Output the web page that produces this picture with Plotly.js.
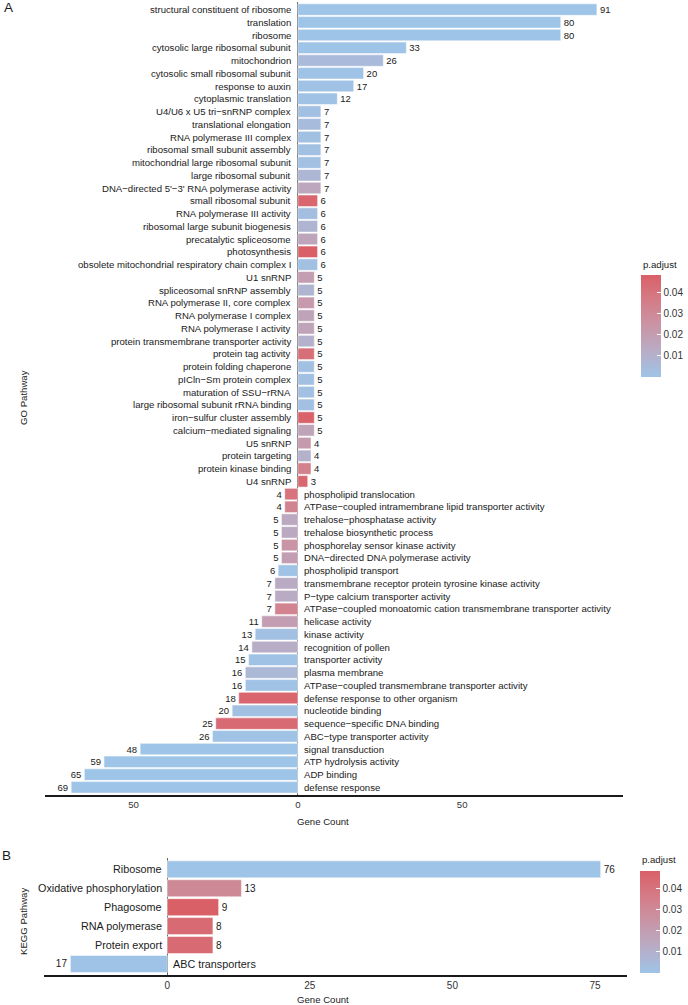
<!DOCTYPE html>
<html><head><meta charset="utf-8">
<script src="https://cdn.plot.ly/plotly-3.0.1.min.js"></script>
<style>html,body{margin:0;padding:0;background:#fff}#chart{width:688px;height:1005px}</style>
</head><body><div id="chart"></div>
<script>
// ---------- GO data ----------
const goTerms = [
 "structural constituent of ribosome","translation","ribosome","cytosolic large ribosomal subunit","mitochondrion",
 "cytosolic small ribosomal subunit","response to auxin","cytoplasmic translation","U4/U6 x U5 tri\u2212snRNP complex",
 "translational elongation","RNA polymerase III complex","ribosomal small subunit assembly","mitochondrial large ribosomal subunit",
 "large ribosomal subunit","DNA\u2212directed 5'\u22123' RNA polymerase activity","small ribosomal subunit","RNA polymerase III activity",
 "ribosomal large subunit biogenesis","precatalytic spliceosome","photosynthesis","obsolete mitochondrial respiratory chain complex I",
 "U1 snRNP","spliceosomal snRNP assembly","RNA polymerase II, core complex","RNA polymerase I complex","RNA polymerase I activity",
 "protein transmembrane transporter activity","protein tag activity","protein folding chaperone","pICln\u2212Sm protein complex",
 "maturation of SSU\u2212rRNA","large ribosomal subunit rRNA binding","iron\u2212sulfur cluster assembly","calcium\u2212mediated signaling",
 "U5 snRNP","protein targeting","protein kinase binding","U4 snRNP",
 "phospholipid translocation","ATPase\u2212coupled intramembrane lipid transporter activity","trehalose\u2212phosphatase activity",
 "trehalose biosynthetic process","phosphorelay sensor kinase activity","DNA\u2212directed DNA polymerase activity","phospholipid transport",
 "transmembrane receptor protein tyrosine kinase activity","P\u2212type calcium transporter activity",
 "ATPase\u2212coupled monoatomic cation transmembrane transporter activity","helicase activity","kinase activity","recognition of pollen",
 "transporter activity","plasma membrane","ATPase\u2212coupled transmembrane transporter activity","defense response to other organism",
 "nucleotide binding","sequence\u2212specific DNA binding","ABC\u2212type transporter activity","signal transduction","ATP hydrolysis activity",
 "ADP binding","defense response"
];
const goCounts = [91,80,80,33,26,20,17,12,7,7,7,7,7,7,7,6,6,6,6,6,6,5,5,5,5,5,5,5,5,5,5,5,5,5,4,4,4,3,
 4,4,5,5,5,5,6,7,7,7,11,13,14,15,16,16,18,20,25,26,48,59,65,69];
const goDirection = [1,1,1,1,1,1,1,1,1,1,1,1,1,1,1,1,1,1,1,1,1,1,1,1,1,1,1,1,1,1,1,1,1,1,1,1,1,1,
 -1,-1,-1,-1,-1,-1,-1,-1,-1,-1,-1,-1,-1,-1,-1,-1,-1,-1,-1,-1,-1,-1,-1,-1];
const goPadj = [1e-30,1e-25,1e-25,0.0002,0.005,0.0005,0.001,0.001,0.002,0.004,0.002,0.002,0.002,0.007,0.015,0.046,0.003,0.008,0.016,0.0483,
 0.002,0.02,0.008,0.022,0.017,0.017,0.01,0.042,0.002,0.002,0.002,0.002,0.047,0.017,0.022,0.01,0.034,0.045,
 0.040,0.033,0.014,0.014,0.024,0.020,0.001,0.013,0.013,0.033,0.02,0.002,0.012,0.001,0.006,0.001,0.046,0.002,0.044,0.001,
 1e-6,1e-8,1e-10,1e-10];
const goTickVals = [-50,0,50];
const goTickText = ["50","0","50"];

// ---------- KEGG data ----------
const keggTerms = ["Ribosome","Oxidative phosphorylation","Phagosome","RNA polymerase","Protein export","ABC transporters"];
const keggCounts = [76,13,9,8,8,17];
const keggDirection = [1,1,1,1,1,-1];
const keggPadj = [1e-30,0.030,0.0483,0.044,0.044,0.0005];
const keggTickVals = [0,25,50,75];
const keggTickText = ["0","25","50","75"];

// ---------- helpers ----------
const W = 688, H = 1005;
const px = v => v / W;
const py = v => 1 - v / H;
const FONT = "Liberation Sans, Arial, Helvetica, sans-serif";
const colorscale = [[0,"#9EC4E8"],[0.25,"#B8ADC6"],[0.5,"#C995A6"],[0.75,"#D47C87"],[1,"#DA6068"]];
const allP = goPadj.concat(keggPadj);
const pMin = Math.min(...allP), pMax = Math.max(...allP);

function signed(counts, dir){ return counts.map((c,i)=>c*dir[i]); }
function extentRange(vals){ const mn=Math.min(0,...vals), mx=Math.max(0,...vals); const e=(mx-mn)*0.05; return [mn-e, mx+e]; }

const goX = signed(goCounts, goDirection);
const keggX = signed(keggCounts, keggDirection);

const traces = [
 {type:"bar", orientation:"h", x:goX, y:goTerms, xaxis:"x", yaxis:"y", width:0.9,
  marker:{color:goPadj, coloraxis:"coloraxis", line:{color:"white", width:0.5}},
  text:goCounts.map(String), textposition:"outside", cliponaxis:false, constraintext:"none",
  outsidetextfont:{family:FONT, size:9.5, color:"#1a1a1a"}, hoverinfo:"x+y"},
 {type:"bar", orientation:"h", x:keggX, y:keggTerms, xaxis:"x2", yaxis:"y2", width:0.9,
  marker:{color:keggPadj, coloraxis:"coloraxis2", line:{color:"white", width:0.5}},
  text:keggCounts.map(String), textposition:"outside", cliponaxis:false, constraintext:"none",
  outsidetextfont:{family:FONT, size:10, color:"#1a1a1a"}, hoverinfo:"x+y"}
];

const annotations = [];
goTerms.forEach((t,i)=>{
  const up = goDirection[i] > 0;
  annotations.push({xref:"x", yref:"y", x:0, y:t, text:t, showarrow:false,
    xanchor: up ? "right" : "left", xshift: up ? -4.5 : 4.5, yanchor:"middle",
    font:{family:FONT, size:9.6, color:"#1a1a1a"}});
});
keggTerms.forEach((t,i)=>{
  const up = keggDirection[i] > 0;
  annotations.push({xref:"x2", yref:"y2", x:0, y:t, text:t, showarrow:false,
    xanchor: up ? "right" : "left", xshift: up ? -3.5 : 3.5, yanchor:"middle",
    font:{family:FONT, size:10.8, color:"#1a1a1a"}});
});
const txt = (x,y,text,size,extra) => Object.assign({xref:"paper", yref:"paper", x:px(x), y:py(y), text:text,
  showarrow:false, xanchor:"center", yanchor:"middle", font:{family:FONT, size:size, color:"#1a1a1a"}}, extra||{});
annotations.push(txt(2,7,"A",13.5,{xanchor:"left"}));
annotations.push(txt(0,855.5,"B",13.5,{xanchor:"left"}));
annotations.push(txt(324,821,"Gene Count",9.6));
annotations.push(txt(324,999,"Gene Count",9.6));
annotations.push(txt(23,397,"GO Pathway",9.6,{textangle:-90}));
annotations.push(txt(23,921,"KEGG Pathway",9.6,{textangle:-90}));
annotations.push(txt(643,264,"p.adjust",9.6,{xanchor:"left"}));
annotations.push(txt(642,859,"p.adjust",9.6,{xanchor:"left"}));

const cbCommon = {thickness:20, thicknessmode:"pixels", lenmode:"pixels", len:102, xanchor:"left", yanchor:"top",
  xpad:0, ypad:0, outlinewidth:0, ticks:"inside", ticklen:4, tickwidth:1, tickcolor:"white",
  tickvals:[0.01,0.02,0.03,0.04], ticktext:["0.01","0.02","0.03","0.04"],
  tickfont:{family:FONT, size:10, color:"#333"}};

const xCommon = {showgrid:false, zeroline:true, zerolinecolor:"#666", zerolinewidth:1,
  showline:true, linecolor:"#1a1a1a", linewidth:1.5, ticks:"", layer:"above traces",
  tickfont:{family:FONT, size:9.6, color:"#333"}, fixedrange:true};
const yCommon = {type:"category", showgrid:false, zeroline:false, showline:false, showticklabels:false, ticks:"", fixedrange:true};

const layout = {
  width:W, height:H, margin:{l:0,r:0,t:0,b:0,pad:0},
  paper_bgcolor:"white", plot_bgcolor:"white", showlegend:false, bargap:0.1,
  font:{family:FONT},
  xaxis:Object.assign({}, xCommon, {domain:[px(45), px(625)], anchor:"y", range:extentRange(goX),
    tickvals:goTickVals, ticktext:goTickText}),
  yaxis:Object.assign({}, yCommon, {domain:[py(795), py(1.9)], anchor:"x",
    categoryorder:"array", categoryarray:goTerms, range:[goTerms.length-0.4, -0.6]}),
  xaxis2:Object.assign({}, xCommon, {domain:[px(44), px(629)], anchor:"y2", range:extentRange(keggX),
    tickvals:keggTickVals, ticktext:keggTickText, tickfont:{family:FONT, size:10, color:"#333"}}),
  yaxis2:Object.assign({}, yCommon, {domain:[py(975.3), py(858)], anchor:"x2",
    categoryorder:"array", categoryarray:keggTerms, range:[keggTerms.length-0.4, -0.6]}),
  coloraxis:{cmin:pMin, cmax:pMax, colorscale:colorscale,
    colorbar:Object.assign({}, cbCommon, {x:px(643), y:py(275)})},
  coloraxis2:{cmin:pMin, cmax:pMax, colorscale:colorscale,
    colorbar:Object.assign({}, cbCommon, {x:px(642), y:py(870.7)})},
  annotations:annotations
};

Plotly.newPlot("chart", traces, layout, {displayModeBar:false, staticPlot:true});
</script>
</body></html>
